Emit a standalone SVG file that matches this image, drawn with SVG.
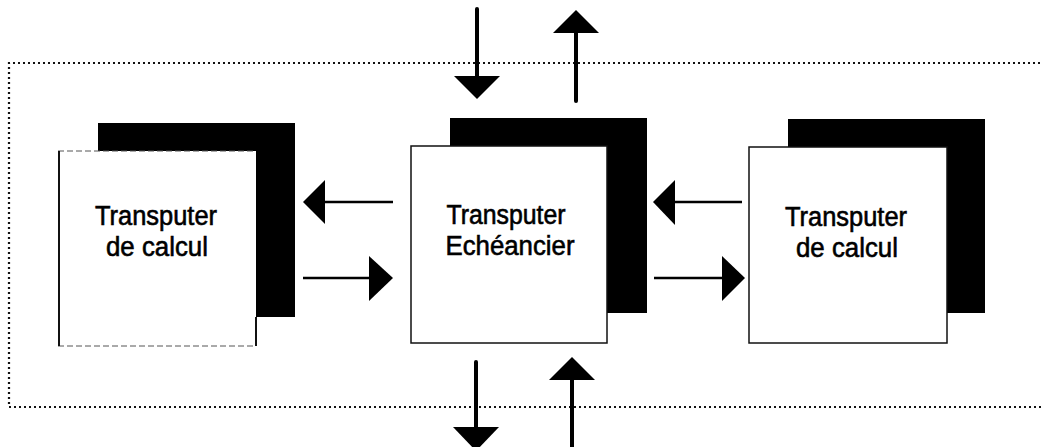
<svg xmlns="http://www.w3.org/2000/svg" width="1041" height="447" viewBox="0 0 1041 447">
  <style>
    .frame { fill: none; stroke: #111; stroke-width: 2.2; stroke-dasharray: 2 3; }
    .shadow { fill: #000; }
    .card { fill: #fff; stroke: #111; stroke-width: 1.5; }
    .card-soft { fill: none; stroke: #555; stroke-width: 1; stroke-dasharray: 6 3; }
    .label { font-family: "Liberation Sans", Arial, sans-serif; font-size: 27px; fill: #000; stroke: #000; stroke-width: 0.6; text-anchor: middle; }
    .wire { stroke: #000; stroke-width: 2.5; fill: none; }
    .wire-v { stroke: #000; stroke-width: 4; fill: none; stroke-linecap: round; }
    .head { fill: #000; }
  </style>

  <!-- dotted enclosure: open on the right, runs past the edge -->
  <path class="frame" d="M1045 63 H9 V407 H1045"/>

  <!-- left compute transputer -->
  <g id="node-calc-left">
    <rect class="shadow" x="98" y="123" width="197" height="194"/>
    <rect x="58" y="151" width="198" height="195" fill="#fff"/>
    <path class="card-soft" d="M58 151 H256 M58 346 H256"/>
    <path fill="none" stroke="#111" stroke-width="2" d="M59 151 V346 M256 317 V346"/>
    <text class="label" x="156" y="225" textLength="122" lengthAdjust="spacingAndGlyphs">Transputer</text>
    <text class="label" x="157" y="256" textLength="102" lengthAdjust="spacingAndGlyphs">de calcul</text>
  </g>

  <!-- central scheduler transputer -->
  <g id="node-scheduler">
    <rect class="shadow" x="450" y="118" width="197" height="195"/>
    <rect class="card" x="411" y="146" width="196" height="197"/>
    <text class="label" x="506" y="224" textLength="119" lengthAdjust="spacingAndGlyphs">Transputer</text>
    <text class="label" x="510" y="255" textLength="129" lengthAdjust="spacingAndGlyphs">Echéancier</text>
  </g>

  <!-- right compute transputer -->
  <g id="node-calc-right">
    <rect class="shadow" x="788" y="119" width="197" height="194"/>
    <rect class="card" x="749" y="147" width="198" height="196"/>
    <text class="label" x="846" y="226" textLength="122" lengthAdjust="spacingAndGlyphs">Transputer</text>
    <text class="label" x="847" y="257" textLength="102" lengthAdjust="spacingAndGlyphs">de calcul</text>
  </g>

  <g id="connectors">
    <!-- scheduler -> left -->
    <line class="wire" x1="393" y1="202" x2="322" y2="202"/>
    <polygon class="head" points="303,202 325,180 325,224"/>
    <!-- left -> scheduler -->
    <line class="wire" x1="303" y1="278" x2="372" y2="278"/>
    <polygon class="head" points="393,278 369,256 369,301"/>
    <!-- right -> scheduler -->
    <line class="wire" x1="742" y1="202" x2="672" y2="202"/>
    <polygon class="head" points="653,202 675,180 675,225"/>
    <!-- scheduler -> right -->
    <line class="wire" x1="654" y1="278" x2="725" y2="278"/>
    <polygon class="head" points="745,278 722,256 722,301"/>

    <!-- top: input down, output up -->
    <line class="wire-v" x1="477" y1="9" x2="477" y2="80"/>
    <polygon class="head" points="477,99 454,76 500,76"/>
    <line class="wire-v" x1="576" y1="30" x2="576" y2="101"/>
    <polygon class="head" points="576,10 553,33 599,33"/>

    <!-- bottom: output down, input up -->
    <line class="wire-v" x1="476" y1="362" x2="476" y2="430"/>
    <polygon class="head" points="476,451 453,427 499,427"/>
    <line class="wire-v" x1="572" y1="376" x2="572" y2="452"/>
    <polygon class="head" points="572,357 549,380 595,380"/>
  </g>
</svg>
